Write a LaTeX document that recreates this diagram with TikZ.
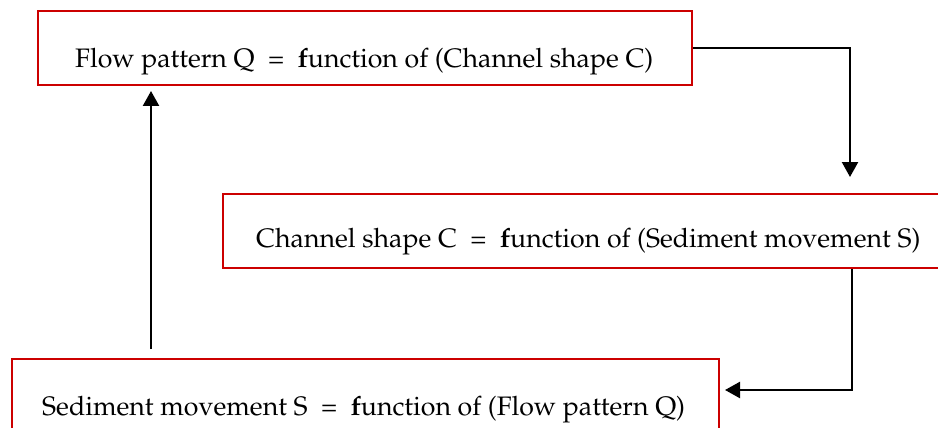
\documentclass[tikz,border=0pt]{standalone}
\usepackage[T1]{fontenc}
\usepackage{mathpazo}
\usetikzlibrary{arrows.meta}
\definecolor{boxred}{RGB}{204,0,0}
\tikzset{
  box/.style={draw=boxred, line width=2.2pt, anchor=north west, inner sep=0pt},
  txt/.style={anchor=base west, inner sep=0pt, font=\fontsize{26.7}{32}\selectfont},
  conn/.style={line width=2.3pt, -{Triangle[length=15pt,width=16pt]}},
}
\begin{document}
\begin{tikzpicture}[x=1pt,y=-1pt]
\useasboundingbox (0,0) rectangle (938,428);
\begin{scope}
\clip (0,0) rectangle (938,428);
\node[box, minimum width=654pt, minimum height=74pt] (b1) at (37,10) {};
\node[box, minimum width=740pt, minimum height=74pt] (b2) at (222,193) {};
\node[box, minimum width=707pt, minimum height=90pt] (b3) at (11,358) {};
\end{scope}
\node[txt] (t1) at (75,68) {Flow pattern Q\ \ =\ \ \textbf{f}unction of (Channel shape C)};
\node[txt] (t2) at (256,247) {Channel shape C\ \ =\ \ \textbf{f}unction of (Sediment movement S)};
\node[txt] (t3) at (42,415) {Sediment movement S\ \ =\ \ \textbf{f}unction of (Flow pattern Q)};
\coordinate (c1) at (850,177);
\coordinate (c2s) at (852,269);
\coordinate (c2) at (725,390);
\coordinate (c3s) at (151,349);
\coordinate (c3) at (151,91);
\draw[conn] (b1.east) -| (c1);
\draw[conn] (c2s) |- (c2);
\draw[conn] (c3s) -- (c3);
\end{tikzpicture}
\end{document}
